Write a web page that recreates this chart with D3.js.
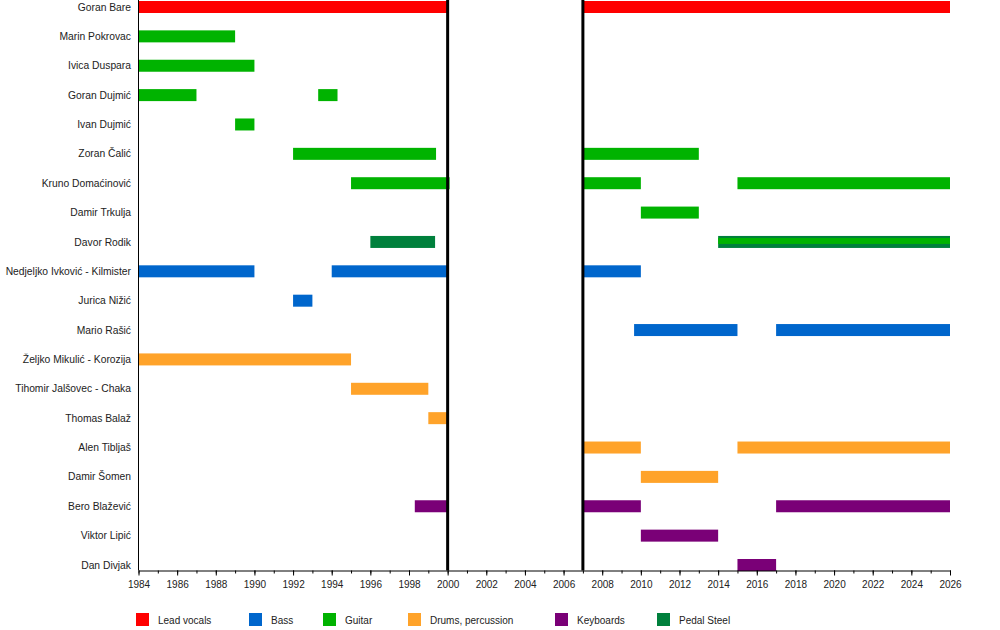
<!DOCTYPE html>
<html>
<head>
<meta charset="utf-8">
<script src="https://cdn.jsdelivr.net/npm/d3@7"></script>
<style>
  body { margin: 0; background: #fff; }
  text { font-family: "Liberation Sans", Arial, sans-serif; }
</style>
</head>
<body>
<div id="chart"></div>
<script>
const members = [
  "Goran Bare", "Marin Pokrovac", "Ivica Duspara", "Goran Dujmić", "Ivan Dujmić",
  "Zoran Čalić", "Kruno Domaćinović", "Damir Trkulja", "Davor Rodik",
  "Nedjeljko Ivković - Kilmister", "Jurica Nižić", "Mario Rašić",
  "Željko Mikulić - Korozija", "Tihomir Jalšovec - Chaka", "Thomas Balaž",
  "Alen Tibljaš", "Damir Šomen", "Bero Blažević", "Viktor Lipić", "Dan Divjak"
];

const roles = ["Lead vocals", "Bass", "Guitar", "Drums, percussion", "Keyboards", "Pedal Steel"];
const roleColors = ["#ff0000", "#0066cc", "#00b300", "#ffa32a", "#7a0077", "#00803c"];

// [member, role, from, till]
const spells = [
  ["Goran Bare", "Lead vocals", 1984, 2000],
  ["Goran Bare", "Lead vocals", 2007, 2026],
  ["Marin Pokrovac", "Guitar", 1984, 1989],
  ["Ivica Duspara", "Guitar", 1984, 1990],
  ["Goran Dujmić", "Guitar", 1984, 1987],
  ["Goran Dujmić", "Guitar", 1993.3, 1994.3],
  ["Ivan Dujmić", "Guitar", 1989, 1990],
  ["Zoran Čalić", "Guitar", 1992, 1999.4],
  ["Zoran Čalić", "Guitar", 2007, 2013],
  ["Kruno Domaćinović", "Guitar", 1995, 2000.1],
  ["Kruno Domaćinović", "Guitar", 2007, 2010],
  ["Kruno Domaćinović", "Guitar", 2015, 2026],
  ["Damir Trkulja", "Guitar", 2010, 2013],
  ["Davor Rodik", "Pedal Steel", 1996, 1999.35],
  ["Davor Rodik", "Pedal Steel", 2014, 2026],
  ["Nedjeljko Ivković - Kilmister", "Bass", 1984, 1990],
  ["Nedjeljko Ivković - Kilmister", "Bass", 1994, 2000],
  ["Nedjeljko Ivković - Kilmister", "Bass", 2007, 2010],
  ["Jurica Nižić", "Bass", 1992, 1993],
  ["Mario Rašić", "Bass", 2009.65, 2015],
  ["Mario Rašić", "Bass", 2017, 2026],
  ["Željko Mikulić - Korozija", "Drums, percussion", 1984, 1995],
  ["Tihomir Jalšovec - Chaka", "Drums, percussion", 1995, 1999],
  ["Thomas Balaž", "Drums, percussion", 1999, 2000],
  ["Alen Tibljaš", "Drums, percussion", 2007, 2010],
  ["Alen Tibljaš", "Drums, percussion", 2015, 2026],
  ["Damir Šomen", "Drums, percussion", 2010, 2014],
  ["Bero Blažević", "Keyboards", 1998.3, 2000],
  ["Bero Blažević", "Keyboards", 2007, 2010],
  ["Bero Blažević", "Keyboards", 2017, 2026],
  ["Viktor Lipić", "Keyboards", 2010, 2014],
  ["Dan Divjak", "Keyboards", 2015, 2017]
];

// secondary instrument, drawn thinner on top of the main bar
const overlaySpells = [
  ["Davor Rodik", "Guitar", 2014, 2026]
];

const breaks = [2000, 2007];
const startYear = 1984, endYear = 2026;

const width = 1000, height = 630;
const marginLeft = 138.5, marginRight = 950, rowTop = 7, rowBottom = 565, axisY = 570.5;

const svg = d3.select("#chart").append("svg")
  .attr("width", width)
  .attr("height", height);

const x = d3.scaleLinear().domain([startYear, endYear]).range([marginLeft, marginRight]);
const y = d3.scalePoint().domain(members).range([rowTop, rowBottom]);
const color = d3.scaleOrdinal().domain(roles).range(roleColors);

const barH = 12;

svg.append("g")
  .selectAll("rect")
  .data(spells)
  .join("rect")
  .attr("x", d => x(d[2]))
  .attr("width", d => x(d[3]) - x(d[2]))
  .attr("y", d => y(d[0]) - barH / 2)
  .attr("height", barH)
  .attr("fill", d => color(d[1]));

svg.append("g")
  .selectAll("rect")
  .data(overlaySpells)
  .join("rect")
  .attr("x", d => x(d[2]))
  .attr("width", d => x(d[3]) - x(d[2]))
  .attr("y", d => y(d[0]) - barH / 2 + 2)
  .attr("height", 6)
  .attr("fill", d => color(d[1]));

// member names
svg.append("g")
  .selectAll("text")
  .data(members)
  .join("text")
  .attr("x", 131)
  .attr("y", d => y(d))
  .attr("dy", "0.35em")
  .attr("text-anchor", "end")
  .style("font-size", "10.3px")
  .attr("fill", "#222")
  .text(d => d);

// hiatus lines
svg.append("g")
  .selectAll("line")
  .data(breaks)
  .join("line")
  .attr("x1", d => x(d)).attr("x2", d => x(d))
  .attr("y1", 0).attr("y2", axisY)
  .attr("stroke", "#000")
  .attr("stroke-width", 3);

// left edge
svg.append("line")
  .attr("x1", marginLeft).attr("x2", marginLeft)
  .attr("y1", 0).attr("y2", axisY)
  .attr("stroke", "#000")
  .attr("stroke-width", 1);

// minor ticks
svg.append("g")
  .attr("transform", `translate(0,${axisY})`)
  .call(d3.axisBottom(x).tickValues(d3.range(startYear, endYear + 1, 1)).tickSize(3).tickFormat(""))
  .call(g => g.select(".domain").remove());

// major ticks
const xAxis = svg.append("g")
  .attr("transform", `translate(0,${axisY})`)
  .call(d3.axisBottom(x)
    .tickValues(d3.range(startYear, endYear + 1, 2))
    .tickSize(5)
    .tickPadding(5)
    .tickSizeOuter(0)
    .tickFormat(d3.format("d")));
xAxis.selectAll("text").style("font-size", "10px").attr("fill", "#222").style("font-family", "Liberation Sans, Arial, sans-serif");

// legend
const legendX = [136, 249, 323, 408, 555, 657];
const legend = svg.append("g")
  .selectAll("g")
  .data(roles)
  .join("g")
  .attr("transform", (d, i) => `translate(${legendX[i]},613)`);

legend.append("rect")
  .attr("width", 13)
  .attr("height", 13)
  .attr("fill", d => color(d));

legend.append("text")
  .attr("x", 22)
  .attr("y", 7)
  .attr("dy", "0.35em")
  .style("font-size", "10px")
  .attr("fill", "#222")
  .text(d => d);
</script>
</body>
</html>
